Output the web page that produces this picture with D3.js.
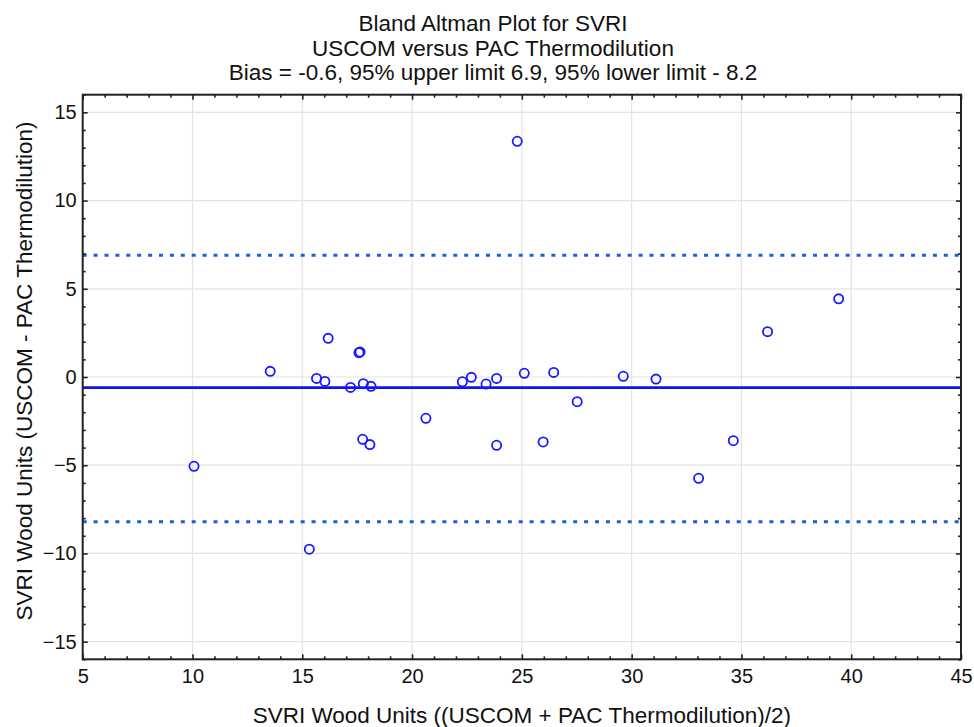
<!DOCTYPE html>
<html>
<head>
<meta charset="utf-8">
<script src="https://cdn.jsdelivr.net/npm/d3@7"></script>
<style>
  html, body { margin: 0; padding: 0; background: #ffffff; }
  svg { display: block; font-family: "Liberation Sans", Arial, Helvetica, sans-serif; }
</style>
</head>
<body>
<svg id="chart" width="974" height="727"></svg>
<script>
// ---- Data ----
const titleLines = [
  "Bland Altman Plot for SVRI",
  "USCOM versus PAC Thermodilution",
  "Bias = -0.6, 95% upper limit 6.9, 95% lower limit - 8.2"
];
const xLabel = "SVRI Wood Units ((USCOM + PAC Thermodilution)/2)";
const yLabel = "SVRI Wood Units (USCOM - PAC Thermodilution)";

// mean of the two methods (x) and difference (y)
const meanValues = [10.07, 13.54, 15.32, 15.65, 16.03, 16.18, 17.20, 17.58, 17.63, 17.75,
                    17.78, 18.08, 18.13, 20.63, 22.29, 22.70, 23.37, 23.85, 23.85, 24.79,
                    25.11, 25.97, 26.45, 27.52, 29.62, 31.11, 33.05, 34.63, 36.19, 39.43];
const diffValues = [-5.06, 0.32, -9.76, -0.08, -0.25, 2.19, -0.59, 1.38, 1.42, -3.53,
                    -0.38, -3.83, -0.53, -2.34, -0.27, -0.02, -0.40, -0.08, -3.87, 13.36,
                    0.21, -3.68, 0.26, -1.40, 0.04, -0.12, -5.74, -3.61, 2.57, 4.43];

const bias = -0.6;
const upperLimit = 6.9;
const lowerLimit = -8.2;

const xTicks = [5, 10, 15, 20, 25, 30, 35, 40, 45];
const yTicks = [-15, -10, -5, 0, 5, 10, 15];
const xMinorTicks = d3.range(5, 46, 1).filter(v => !xTicks.includes(v));
const yMinorTicks = d3.range(-16, 17, 1).filter(v => !yTicks.includes(v));

// ---- Layout ----
const svg = d3.select("#chart");
const L = 82.7, R = 961, T = 94.7, B = 659.3;

const x = d3.scaleLinear().domain([5, 45]).range([L, R]);
const y = d3.scaleLinear().domain([-16, 16]).range([B, T]);

// gridlines
const grid = svg.append("g").attr("stroke", "#e3e3e3").attr("stroke-width", 1.2);
grid.selectAll("line.gx").data(xTicks.filter(v => v > 5 && v < 45)).join("line")
  .attr("x1", d => x(d)).attr("x2", d => x(d)).attr("y1", T).attr("y2", B);
grid.selectAll("line.gy").data(yTicks).join("line")
  .attr("x1", L).attr("x2", R).attr("y1", d => y(d)).attr("y2", d => y(d));

// limit lines
const limits = [upperLimit, lowerLimit];
svg.append("g").selectAll("line").data(limits).join("line")
  .attr("x1", L).attr("x2", R)
  .attr("y1", d => y(d)).attr("y2", d => y(d))
  .attr("stroke", "#1a5fd8").attr("stroke-width", 3)
  .attr("stroke-dasharray", "4,6.9");

// bias line
svg.append("line")
  .attr("x1", L).attr("x2", R)
  .attr("y1", y(bias)).attr("y2", y(bias))
  .attr("stroke", "#0a14f5").attr("stroke-width", 2.8);

// points
const pts = meanValues.map((m, i) => ({ m, d: diffValues[i] }));
svg.append("g").selectAll("circle").data(pts).join("circle")
  .attr("cx", p => x(p.m)).attr("cy", p => y(p.d)).attr("r", 4.6)
  .attr("fill", "none").attr("stroke", "#1a1aff").attr("stroke-width", 1.8);

// axes (ticks inside)
function styleAxis(g) {
  g.select(".domain").remove();
  g.selectAll(".tick line").attr("stroke", "#222").attr("stroke-width", 1.6);
  g.selectAll(".tick text").attr("fill", "#111").attr("font-size", 20)
    .attr("font-family", "'Liberation Sans', Arial, sans-serif");
}
const fmt = d3.format("d");
svg.append("g").attr("transform", `translate(0,${B})`)
  .call(d3.axisBottom(x).tickValues(xTicks).tickSize(-5).tickPadding(10).tickFormat(fmt)).call(styleAxis);
svg.append("g").attr("transform", `translate(0,${B})`)
  .call(d3.axisBottom(x).tickValues(xMinorTicks).tickSize(-3).tickFormat("")).call(styleAxis);
svg.append("g").attr("transform", `translate(0,${T})`)
  .call(d3.axisTop(x).tickValues(xTicks).tickSize(-5).tickFormat("")).call(styleAxis);
svg.append("g").attr("transform", `translate(0,${T})`)
  .call(d3.axisTop(x).tickValues(xMinorTicks).tickSize(-3).tickFormat("")).call(styleAxis);
svg.append("g").attr("transform", `translate(${L},0)`)
  .call(d3.axisLeft(y).tickValues(yTicks).tickSize(-5).tickPadding(6).tickFormat(fmt)).call(styleAxis);
svg.append("g").attr("transform", `translate(${L},0)`)
  .call(d3.axisLeft(y).tickValues(yMinorTicks).tickSize(-3).tickFormat("")).call(styleAxis);
svg.append("g").attr("transform", `translate(${R},0)`)
  .call(d3.axisRight(y).tickValues(yTicks).tickSize(-5).tickFormat("")).call(styleAxis);
svg.append("g").attr("transform", `translate(${R},0)`)
  .call(d3.axisRight(y).tickValues(yMinorTicks).tickSize(-3).tickFormat("")).call(styleAxis);

// frame
svg.append("rect").attr("x", L).attr("y", T).attr("width", R - L).attr("height", B - T)
  .attr("fill", "none").attr("stroke", "#222").attr("stroke-width", 2);

// title
svg.append("g").selectAll("text").data(titleLines).join("text")
  .attr("x", 493).attr("y", (d, i) => 31 + i * 24.5)
  .attr("text-anchor", "middle").attr("font-size", 22.5).attr("fill", "#111")
  .text(d => d);

// axis labels
svg.append("text").attr("x", (L + R) / 2).attr("y", 722.7)
  .attr("text-anchor", "middle").attr("font-size", 22.5).attr("fill", "#111")
  .text(xLabel);
svg.append("text").attr("transform", "translate(32,371) rotate(-90)")
  .attr("text-anchor", "middle").attr("font-size", 22.5).attr("fill", "#111")
  .text(yLabel);
</script>
</body>
</html>
